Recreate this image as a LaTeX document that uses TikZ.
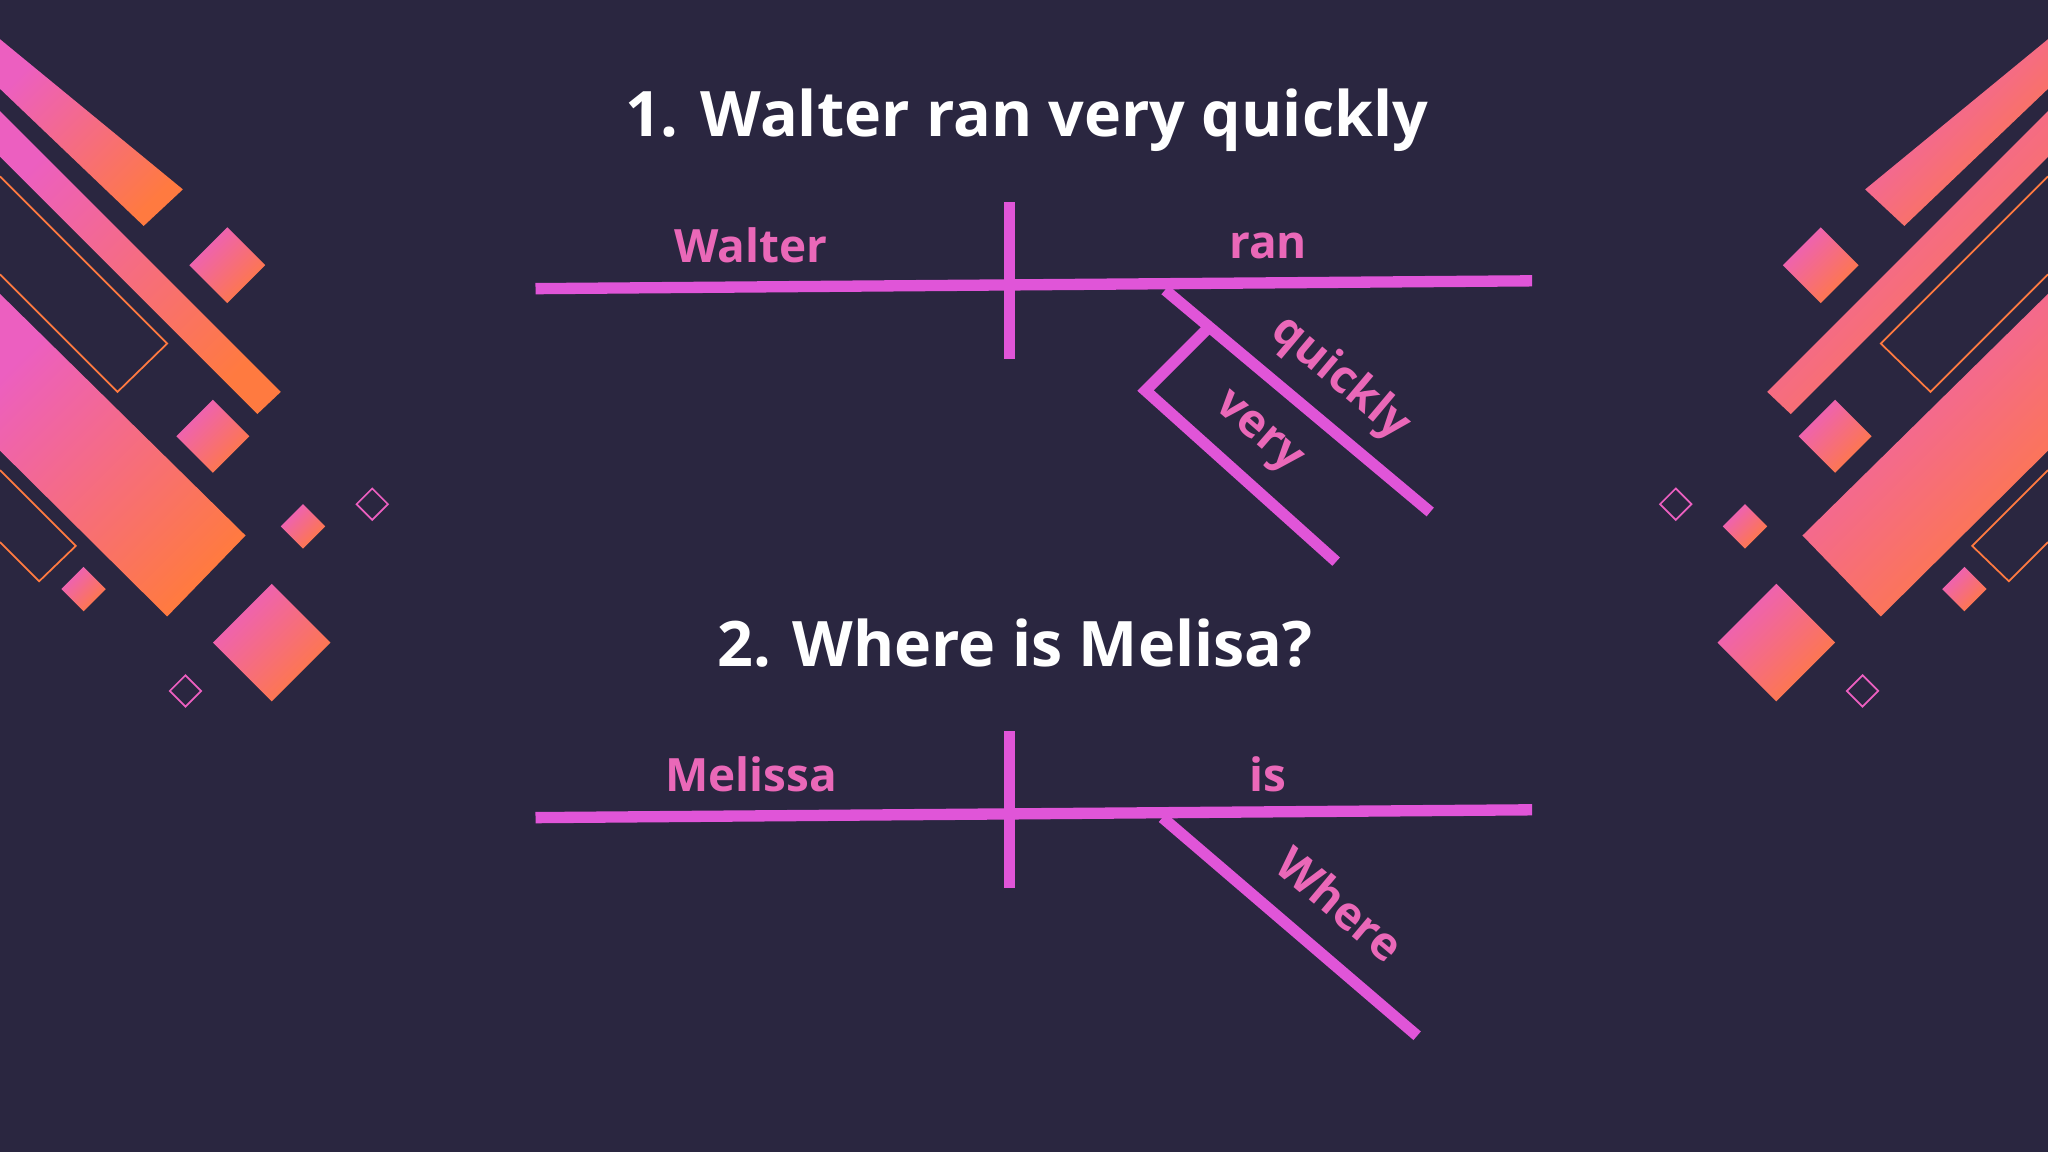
\documentclass[tikz,border=0pt]{standalone}
\usepackage{fontspec}
\setmainfont{Open Sans}
\definecolor{bg}{HTML}{2A2640}
\definecolor{ln}{HTML}{E055D8}
\definecolor{lb}{HTML}{EA68B8}
\definecolor{pk}{HTML}{EC5FC0}
\definecolor{og}{HTML}{FF7A40}
\begin{document}
\begin{tikzpicture}[x=0.3mm,y=-0.3mm,
  rule/.style={draw=ln,line width=2.6mm},
  lab/.style={text=lb,font=\fontsize{30}{32}\selectfont\bfseries,inner sep=0},
  ttl/.style={text=white,font=\fontsize{41}{44}\selectfont\bfseries,inner sep=0},
  grad/.style={shading=axis,left color=pk,right color=og,shading angle=45},
  outl/.style={draw=og,line width=0.4mm}]
\fill[bg] (0,0) rectangle (1568,882);
\useasboundingbox (0,0) rectangle (1568,882);
\foreach \s/\o in {1/0,-1/1568}{
\begin{scope}[xshift=\o*0.3mm,xscale=\s]
 \shade[grad] (0,30)--(140,145)--(110,173)--(0,68)--cycle;
 \shade[grad] (0,85)--(215,300)--(197,317)--(0,120)--cycle;
 \draw[outl] (0,135)--(128,263)--(90,300)--(0,210);
 \shade[grad] (0,225)--(188,410)--(128,472)--(0,345)--cycle;
 \draw[outl] (0,360)--(58,418)--(30,445)--(0,415);
 \foreach \x/\y/\r in {174/203/29,163/334/28,232/403/17,64/451/17,208/492/45}
   \shade[grad] (\x,\y-\r)--(\x+\r,\y)--(\x,\y+\r)--(\x-\r,\y)--cycle;
 \foreach \x/\y in {285/386,142/529}
   \draw[draw=pk,line width=0.4mm] (\x,\y-12)--(\x+12,\y)--(\x,\y+12)--(\x-12,\y)--cycle;
\end{scope}}
% Titles
\node[ttl] (t1) at (786,92) {1. Walter ran very quickly};
\node[ttl] (t2) at (777,492) {2. Where is Melisa?};
% Diagram 1
\coordinate (a1) at (410,221); \coordinate (b1) at (1173,215);
\coordinate (v1t) at (773,155); \coordinate (v1b) at (773,275);
\coordinate (d1s) at (892,222); \coordinate (d1e) at (1095,392);
\coordinate (m1s) at (925,251); \coordinate (m1k) at (877,299); \coordinate (m1e) at (1023,430);
\draw[rule] (a1)--(b1);
\draw[rule] (v1t)--(v1b);
\draw[rule] (d1s)--(d1e);
\draw[rule,line join=miter] (m1s)--(m1k)--(m1e);
\node[lab] (w1) at (575,188) {Walter};
\node[lab] (r1) at (971,188) {ran};
\node[lab,rotate=-40] (q1) at (1026,290) {quickly};
\node[lab,rotate=-41] (vy) at (962,333) {very};
% Diagram 2
\coordinate (a2) at (410,626); \coordinate (b2) at (1173,620);
\coordinate (v2t) at (773,560); \coordinate (v2b) at (773,680);
\coordinate (d2s) at (890,626); \coordinate (d2e) at (1085,793);
\draw[rule] (a2)--(b2);
\draw[rule] (v2t)--(v2b);
\draw[rule] (d2s)--(d2e);
\node[lab] (m2) at (575,593) {Melissa};
\node[lab] (i2) at (971,593) {is};
\node[lab,rotate=-40] (wh) at (1026,692) {Where};
\end{tikzpicture}
\end{document}
